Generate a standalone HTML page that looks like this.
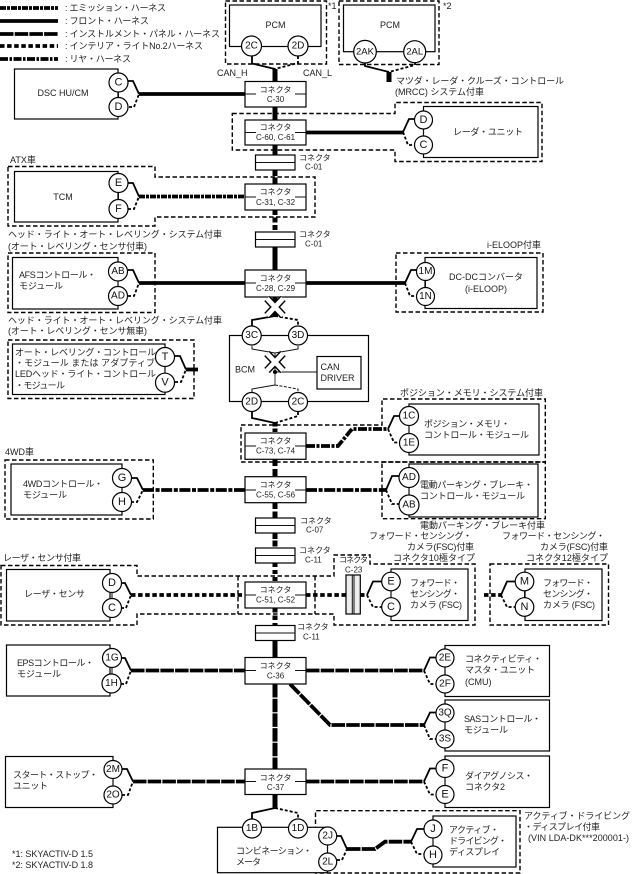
<!DOCTYPE html>
<html><head><meta charset="utf-8">
<style>
html,body{margin:0;padding:0;background:#fff}
svg{display:block}
text{font-family:"Liberation Sans","Noto Sans CJK JP",sans-serif;font-size:9px;fill:#222;dominant-baseline:central}
.s{font-size:8px}
.m{text-anchor:middle}
.c{font-size:11px;text-anchor:middle;fill:#111}
.c2{font-size:10px;text-anchor:middle;fill:#111}
.b{fill:#fff;stroke:#000;stroke-width:1.2}
.d{fill:none;stroke:#000;stroke-width:1.4;stroke-dasharray:4.5 2.5}
.f{fill:none;stroke:#000;stroke-width:3.8}
.i{fill:none;stroke:#000;stroke-width:3.8;stroke-dasharray:13.5 1.2}
.n{fill:none;stroke:#000;stroke-width:3.8;stroke-dasharray:4.5 2.6}
.r{fill:none;stroke:#000;stroke-width:3.8;stroke-dasharray:11 1.6 4 1.6}
.e{fill:none;stroke:#000;stroke-width:3.8;stroke-dasharray:6 1 3 1}
.t{fill:none;stroke:#000;stroke-width:5}
.h{fill:none;stroke:#000;stroke-width:1.8}
.g{fill:none;stroke:#000;stroke-width:1.8;stroke-dasharray:3 2}
.l{fill:none;stroke:#111;stroke-width:1}
.ld{fill:none;stroke:#111;stroke-width:1;stroke-dasharray:3 1.5}
</style></head><body>
<svg xmlns="http://www.w3.org/2000/svg" width="636" height="874" viewBox="0 0 636 874">
<!-- legend -->
<path class="e" d="M0 8H58"/><path class="f" d="M0 21H58"/><path class="i" d="M0 34H58"/><path class="n" d="M0 46H58"/><path class="r" d="M0 59H58" style="stroke-dasharray:8 1.5 2.5 1.5"/>
<text x="65" y="8" textLength="101">: エミッション・ハーネス</text>
<text x="65" y="21" textLength="84">: フロント・ハーネス</text>
<text x="65" y="34" textLength="155">: インストルメント・パネル・ハーネス</text>
<text x="65" y="46" textLength="138">: インテリア・ライトNo.2ハーネス</text>
<text x="65" y="59" textLength="66">: リヤ・ハーネス</text>

<!-- dashed boundaries -->
<rect class="d" x="225.5" y="1" width="101" height="63"/>
<rect class="d" x="339" y="1" width="100" height="63.5"/>
<path class="d" d="M232.3 113.5H395V102.5H542V161.5H395V150H232.3Z"/>
<path class="d" d="M8 166.5H155V177H315V217H155V226H8Z"/>
<rect class="d" x="8" y="253" width="147" height="59.5"/>
<rect class="d" x="396" y="253" width="147" height="59"/>
<rect class="d" x="8" y="340" width="186" height="58.5"/>
<path class="d" d="M241 425H382V399H545.3V462H241Z"/>
<rect class="d" x="382" y="462" width="163.3" height="56.7"/>
<rect class="d" x="5" y="460" width="148.3" height="59"/>
<path class="d" d="M1 565.5H137V576H334V555H370V564H475V625H334V614H137V625H1Z"/>
<path class="d" d="M238 576V614M315 576V614"/>
<rect class="d" x="490" y="564" width="118.5" height="61"/>
<path class="d" d="M315.5 873V810.7H520V873Z"/>

<!-- trunk -->
<path class="t" d="M275 69V82"/>
<path class="t" d="M275 107V120"/>
<path class="t" d="M275 145V155"/>
<path class="t" d="M275 170V184" style="stroke-dasharray:6 1.5"/>
<path class="t" d="M275 210V232" style="stroke-dasharray:5 2.5"/>
<path class="t" d="M275 247V270"/>
<path class="t" d="M275 297V316"/>
<path class="t" d="M275 423V433" style="stroke-dasharray:3.5 2"/>
<path class="t" d="M275 459V477" style="stroke-dasharray:7 3"/>
<path class="t" d="M275 503V518" style="stroke-dasharray:6 2.5"/>
<path class="t" d="M275 533V548" style="stroke-dasharray:6 1.5"/>
<path class="t" d="M275 563V582" style="stroke-dasharray:4 3"/>
<path class="t" d="M275 608V625" style="stroke-dasharray:4.5 3"/>
<path class="t" d="M275 640V658"/>
<path class="t" d="M275 684V769" style="stroke-dasharray:13.5 1.2"/>
<path class="t" d="M275 794V808"/>
<path class="t" d="M389 72V82"/>

<!-- PCM 1/2 wires -->
<path class="h" d="M252 56V63.5L275 69"/><path class="g" d="M298 56V63L275 69"/>
<path class="h" d="M365 62V66L389 72"/><path class="g" d="M415 62V65L389 72"/>

<!-- horizontals -->
<path class="f" d="M139 94H245"/>
<path class="f" d="M306 132.5H403"/>
<path class="e" d="M139 196.5H245"/>
<path class="f" d="M139 283H245"/>
<path class="f" d="M306 283H405"/>
<path class="f" d="M186 369.5H198"/>
<path class="r" d="M306 446H338L352 429H388" style="stroke-dasharray:9 1.5 3 1.5"/>
<path class="r" d="M143 490H245"/>
<path class="r" d="M306 490H386"/>
<path class="n" d="M131 595H245"/>
<path class="n" d="M306 595H346"/>
<path class="n" d="M360 595H367"/>
<path class="n" d="M484 595H501"/>
<path class="i" d="M131 670.5H245"/>
<path class="i" d="M306 670.5H424"/>
<path class="i" d="M290 684L330 725H424"/>
<path class="i" d="M133 781.5H245"/>
<path class="i" d="M306 781.5H424"/>
<path class="i" d="M347 849H375L385 841.7H411"/>

<!-- forks -->
<path class="h" d="M128 81H133L139 94"/><path class="g" d="M129 107H134L139 94"/>
<path class="h" d="M403 132L409 119H415"/><path class="g" d="M403 132L408 145H415"/>
<path class="h" d="M128 183H133L139 196.5"/><path class="g" d="M128 209H134L139 196.5"/>
<path class="h" d="M128 270H133L139 283"/><path class="g" d="M128 296H134L139 283"/>
<path class="h" d="M405 283L411 270H417"/><path class="g" d="M405 283L410 296H417"/>
<path class="h" d="M174 356H180L186 369.5"/><path class="g" d="M175 382H181L186 369.5"/>
<path class="h" d="M388 429L394 416H400"/><path class="g" d="M388 429L394 442.5H400"/>
<path class="h" d="M386 490L392 476H399"/><path class="g" d="M386 490L392 504H399"/>
<path class="h" d="M131 478H137L143 490"/><path class="g" d="M131 502H137L143 490"/>
<path class="h" d="M121 583H125L131 595"/><path class="g" d="M121 608H126L131 595"/>
<path class="h" d="M367 595L373 581.5H382"/><path class="g" d="M367 595L373 607H382"/>
<path class="h" d="M501 595L507 581.5H515"/><path class="g" d="M501 595L507 607H515"/>
<path class="h" d="M121 658H125L131 670.5"/><path class="g" d="M121 684H126L131 670.5"/>
<path class="h" d="M424 670.7L430 657.5H436"/><path class="g" d="M424 670.7L430 684H437"/>
<path class="h" d="M424 725L430 712.5H437"/><path class="g" d="M424 725L430 739H437"/>
<path class="h" d="M122 769H127L133 781.5"/><path class="g" d="M122 795H128L133 781.5"/>
<path class="h" d="M424 781.5L430 768.5H437"/><path class="g" d="M424 781.5L430 794.5H437"/>
<path class="h" d="M337 836H341L347 849"/><path class="g" d="M337 860H342L347 849"/>
<path class="h" d="M411 841.7L417 829H424"/><path class="g" d="M411 841.7L417 854H424"/>
<path class="h" d="M275 316L252 320V329"/><path class="g" d="M275 316L298 320V329"/>
<path class="h" d="M252 412V418L275 423"/><path class="g" d="M298 412V416L275 423"/>
<path class="h" d="M275 808L252 813V819"/><path class="g" d="M275 808L298 813V819"/>

<!-- unit boxes -->
<rect class="b" x="229.5" y="5" width="91.5" height="41.5"/>
<rect class="b" x="343.5" y="5" width="91.5" height="46.7"/>
<rect class="b" x="14.5" y="69" width="103.5" height="50"/>
<rect class="b" x="423.5" y="106.5" width="114.5" height="51"/>
<rect class="b" x="14.5" y="171.5" width="103.5" height="50.5"/>
<rect class="b" x="12.5" y="257.5" width="105.5" height="51.5"/>
<rect class="b" x="425" y="257.5" width="112" height="51"/>
<rect class="b" x="12.5" y="344" width="152.5" height="50.5"/>
<rect class="b" x="229.5" y="335.5" width="139" height="66"/>
<rect class="b" x="317" y="356.5" width="44" height="32.5"/>
<rect class="b" x="409" y="404" width="130" height="51"/>
<rect class="b" x="409" y="464" width="129" height="53"/>
<rect class="b" x="11" y="464" width="111" height="51"/>
<rect class="b" x="6.5" y="569.5" width="103.5" height="51.5"/>
<rect class="b" x="391" y="569" width="77" height="51.5"/>
<rect class="b" x="525" y="569" width="77" height="51.5"/>
<rect class="b" x="6.5" y="645" width="103.5" height="51"/>
<rect class="b" x="445" y="645.5" width="104.5" height="51"/>
<rect class="b" x="445" y="700" width="104.5" height="51"/>
<rect class="b" x="5.5" y="756.5" width="107.5" height="51"/>
<rect class="b" x="445" y="756" width="104.5" height="51.5"/>
<rect class="b" x="217.5" y="827.3" width="110" height="45.4"/>
<rect class="b" x="433" y="816" width="83" height="51"/>

<!-- BCM inside -->
<path class="l" d="M252 346V349L275 353L298 349V346"/>
<path class="l" d="M275 353V372"/>
<path d="M275 372V385" stroke="#777" stroke-width="1.4" fill="none"/>
<path class="l" d="M275 385L252 389V392"/><path class="ld" d="M275 385L298 389V392"/>
<path class="l" d="M275 372H317"/>

<!-- connectors -->
<g>
<rect class="b" x="245" y="81.5" width="61" height="25.5"/><path class="l" d="M245 94H256M295 94H306"/>
<text class="s m" x="275.5" y="90">コネクタ</text><text class="s m" x="275.5" y="99.5">C-30</text>
<rect class="b" x="245" y="120" width="61" height="25"/><path class="l" d="M245 132.5H256M295 132.5H306"/>
<text class="s m" x="275.5" y="127.5">コネクタ</text><text class="s m" x="275.5" y="137.5">C-60, C-61</text>
<rect class="b" x="245" y="184" width="61" height="26"/><path class="l" d="M245 197H256M295 197H306"/>
<text class="s m" x="275.5" y="192">コネクタ</text><text class="s m" x="275.5" y="202.5">C-31, C-32</text>
<rect class="b" x="245" y="270" width="61" height="27"/><path class="l" d="M245 283H256M295 283H306"/>
<text class="s m" x="275.5" y="278.5">コネクタ</text><text class="s m" x="275.5" y="288.5">C-28, C-29</text>
<rect class="b" x="245" y="433" width="61" height="26.3"/><path class="l" d="M245 446H256M295 446H306"/>
<text class="s m" x="275.5" y="441">コネクタ</text><text class="s m" x="275.5" y="451">C-73, C-74</text>
<rect class="b" x="245" y="476.7" width="61" height="26"/><path class="l" d="M245 490H256M295 490H306"/>
<text class="s m" x="275.5" y="485">コネクタ</text><text class="s m" x="275.5" y="495">C-55, C-56</text>
<rect class="b" x="245" y="582" width="61" height="26"/><path class="l" d="M245 595H256M295 595H306"/>
<text class="s m" x="275.5" y="590">コネクタ</text><text class="s m" x="275.5" y="600">C-51, C-52</text>
<rect class="b" x="245" y="657.5" width="61" height="26.5"/><path class="l" d="M245 670.5H256M295 670.5H306"/>
<text class="s m" x="275.5" y="666">コネクタ</text><text class="s m" x="275.5" y="676">C-36</text>
<rect class="b" x="245" y="769" width="61" height="25.5"/><path class="l" d="M245 781.5H256M295 781.5H306"/>
<text class="s m" x="275.5" y="778">コネクタ</text><text class="s m" x="275.5" y="787.5">C-37</text>
</g>
<g>
<rect class="b" x="255.5" y="155" width="39.5" height="15"/><path class="l" d="M255.5 162.5H295"/>
<rect class="b" x="255.5" y="232" width="39.5" height="15"/><path class="l" d="M255.5 239.5H295"/>
<rect class="b" x="255.5" y="518" width="39.5" height="15"/><path class="l" d="M255.5 525.5H295"/>
<rect class="b" x="255.5" y="548" width="39.5" height="15"/><path class="l" d="M255.5 555.5H295"/>
<rect class="b" x="255.5" y="625.5" width="39.5" height="15"/><path class="l" d="M255.5 633H295"/>
<rect x="346" y="575" width="14.3" height="39" fill="#eee" stroke="#000" stroke-width="1.2"/>
<path d="M352.3 575V614M354 575V614" stroke="#111" stroke-width="1"/>
</g>
<text class="s" x="299" y="158">コネクタ</text><text class="s" x="305" y="167">C-01</text>
<text class="s" x="299" y="234.5">コネクタ</text><text class="s" x="305" y="244">C-01</text>
<text class="s" x="300" y="521">コネクタ</text><text class="s" x="306" y="530">C-07</text>
<text class="s" x="299" y="550.5">コネクタ</text><text class="s" x="305" y="560">C-11</text>
<text class="s" x="297" y="627">コネクタ</text><text class="s" x="303" y="637">C-11</text>
<text class="s" x="339" y="560" textLength="29">コネクタ</text><text class="s" x="345" y="570">C-23</text>

<!-- X marks -->
<g>
<path d="M267 298.5L283 315.5M283 298.5L267 315.5" stroke="#000" stroke-width="7.5" fill="none"/>
<path d="M267 298.5L283 315.5M283 298.5L267 315.5" stroke="#fff" stroke-width="4.8" fill="none"/>
<path d="M267 353.5L283 370.5M283 353.5L267 370.5" stroke="#000" stroke-width="7.5" fill="none"/>
<path d="M267 353.5L283 370.5M283 353.5L267 370.5" stroke="#fff" stroke-width="4.8" fill="none"/>
</g>
<circle cx="275" cy="372" r="2" fill="#000"/>

<!-- circle connecting stubs -->
<path class="l" d="M423.5 120V145M118.5 82V107M118.5 183V209M118 271V296M425.5 271V296M165 357V383M409 416V443M409 477V505M122 478V502M112 583V608M391 581V607M524.5 581V607M112 658V684M445 658V684M445 713V739M113 769V795M445 768V795M327.5 836V862M433 829V855"/>

<!-- circles -->
<g fill="#fff" stroke="#000" stroke-width="1.2">
<circle cx="251.5" cy="46" r="10"/><circle cx="298" cy="46" r="10"/>
<circle cx="365" cy="51.7" r="11.3"/><circle cx="414.7" cy="51.7" r="11"/>
<circle cx="118.5" cy="82.5" r="9.5"/><circle cx="118.5" cy="107" r="9.5"/>
<circle cx="423.5" cy="120" r="9"/><circle cx="423.5" cy="145" r="9"/>
<circle cx="118.5" cy="183" r="9.5"/><circle cx="118.5" cy="209" r="9.5"/>
<circle cx="118" cy="271.5" r="9.5"/><circle cx="118" cy="296" r="9.5"/>
<circle cx="425.5" cy="271.5" r="9"/><circle cx="425.5" cy="296.5" r="9"/>
<circle cx="165" cy="357" r="9.5"/><circle cx="165" cy="382.7" r="9.5"/>
<circle cx="251.7" cy="335.5" r="9.5"/><circle cx="298" cy="335.5" r="9.5"/>
<circle cx="251.7" cy="402" r="9.5"/><circle cx="298" cy="402" r="9.5"/>
<circle cx="409" cy="416" r="9.5"/><circle cx="409" cy="443" r="9.5"/>
<circle cx="409" cy="477.5" r="10"/><circle cx="409" cy="505" r="10"/>
<circle cx="122" cy="478" r="9.5"/><circle cx="122" cy="502" r="9.5"/>
<circle cx="112" cy="583" r="9.5"/><circle cx="112" cy="608" r="9.5"/>
<circle cx="391" cy="581.5" r="9.3"/><circle cx="391" cy="607" r="9.3"/>
<circle cx="524.5" cy="581.5" r="9.3"/><circle cx="524.5" cy="607" r="9.3"/>
<circle cx="112" cy="658" r="9.5"/><circle cx="111.5" cy="683.5" r="9.5"/>
<circle cx="445" cy="658" r="9"/><circle cx="445" cy="684" r="9"/>
<circle cx="445" cy="713" r="9"/><circle cx="445" cy="739" r="9"/>
<circle cx="113" cy="769.5" r="9"/><circle cx="113" cy="795" r="9"/>
<circle cx="445" cy="768.5" r="9"/><circle cx="445" cy="794.5" r="9"/>
<circle cx="252" cy="828.5" r="9.5"/><circle cx="298" cy="828.5" r="9.5"/>
<circle cx="327.7" cy="836" r="9"/><circle cx="327.7" cy="862" r="9"/>
<circle cx="433" cy="829" r="9"/><circle cx="433" cy="855" r="9"/>
</g>
<text class="c2" x="251.5" y="46">2C</text><text class="c2" x="298" y="46">2D</text>
<text class="c2" x="365" y="52" style="font-size:9.5px">2AK</text><text class="c2" x="414.7" y="52" style="font-size:9.5px">2AL</text>
<text class="c" x="118.5" y="82.5">C</text><text class="c" x="118.5" y="107">D</text>
<text class="c" x="423.5" y="120">D</text><text class="c" x="423.5" y="145">C</text>
<text class="c" x="118.5" y="183">E</text><text class="c" x="118.5" y="209">F</text>
<text class="c2" x="118" y="271.5">AB</text><text class="c2" x="118" y="296">AD</text>
<text class="c2" x="425.5" y="271.5">1M</text><text class="c2" x="425.5" y="296.5">1N</text>
<text class="c" x="165" y="357">T</text><text class="c" x="165" y="382.7">V</text>
<text class="c2" x="251.7" y="335.5">3C</text><text class="c2" x="298" y="335.5">3D</text>
<text class="c2" x="251.7" y="402">2D</text><text class="c2" x="298" y="402">2C</text>
<text class="c2" x="409" y="416">1C</text><text class="c2" x="409" y="443">1E</text>
<text class="c2" x="409" y="477.5">AD</text><text class="c2" x="409" y="505">AB</text>
<text class="c" x="122" y="478">G</text><text class="c" x="122" y="502">H</text>
<text class="c" x="112" y="583">D</text><text class="c" x="112" y="608">C</text>
<text class="c" x="391" y="581.5">E</text><text class="c" x="391" y="607">C</text>
<text class="c" x="524.5" y="581.5">M</text><text class="c" x="524.5" y="607">N</text>
<text class="c2" x="112" y="658">1G</text><text class="c2" x="111.5" y="683.5">1H</text>
<text class="c2" x="445" y="658">2E</text><text class="c2" x="445" y="684">2F</text>
<text class="c2" x="445" y="713">3Q</text><text class="c2" x="445" y="739">3S</text>
<text class="c2" x="113" y="769.5">2M</text><text class="c2" x="113" y="795">2O</text>
<text class="c" x="445" y="768.5">F</text><text class="c" x="445" y="794.5">E</text>
<text class="c2" x="252" y="828.5">1B</text><text class="c2" x="298" y="828.5">1D</text>
<text class="c2" x="327.7" y="836">2J</text><text class="c2" x="327.7" y="862">2L</text>
<text class="c" x="433" y="829">J</text><text class="c" x="433" y="855">H</text>

<!-- unit labels -->
<text class="m" x="275.5" y="25">PCM</text>
<text class="m" x="390" y="25">PCM</text>
<text x="328" y="6">*1</text><text x="443" y="6">*2</text>
<text x="217" y="73">CAN_H</text><text x="303" y="73">CAN_L</text>
<text x="396" y="81" textLength="168">マツダ・レーダ・クルーズ・コントロール</text>
<text x="395" y="92" textLength="89">(MRCC) システム付車</text>
<text class="m" x="63" y="93">DSC HU/CM</text>
<text x="453" y="132" textLength="70">レーダ・ユニット</text>
<text x="10" y="160">ATX車</text>
<text class="m" x="63" y="197">TCM</text>
<text x="8" y="234.5" textLength="214">ヘッド・ライト・オート・レベリング・システム付車</text>
<text x="8" y="246.5" textLength="139">(オート・レベリング・センサ付車)</text>
<text x="19" y="275" textLength="77">AFSコントロール・</text>
<text x="19" y="286" textLength="44">モジュール</text>
<text x="487" y="245" textLength="54">i-ELOOP付車</text>
<text class="m" x="486" y="277">DC-DCコンバータ</text>
<text class="m" x="486" y="289">(i-ELOOP)</text>
<text x="8" y="320.5" textLength="214">ヘッド・ライト・オート・レベリング・システム付車</text>
<text x="8" y="331" textLength="139">(オート・レベリング・センサ無車)</text>
<text x="15" y="352.5" textLength="141">オート・レベリング・コントロール</text>
<text x="15" y="363" textLength="140">・モジュール または アダプティブ</text>
<text x="15" y="374" textLength="141">LEDヘッド・ライト・コントロール</text>
<text x="15" y="385.5" textLength="50">・モジュール</text>
<text x="235" y="369.5">BCM</text>
<text x="320.5" y="367">CAN</text><text x="320.5" y="378">DRIVER</text>
<text x="400" y="393" textLength="143">ポジション・メモリ・システム付車</text>
<text x="424" y="424" textLength="86">ポジション・メモリ・</text>
<text x="424" y="435" textLength="105">コントロール・モジュール</text>
<text x="420" y="485" textLength="113">電動パーキング・ブレーキ・</text>
<text x="420" y="496" textLength="105">コントロール・モジュール</text>
<text x="420" y="525.5" textLength="125">電動パーキング・ブレーキ付車</text>
<text x="5" y="452">4WD車</text>
<text x="23" y="484" textLength="80">4WDコントロール・</text>
<text x="23" y="495" textLength="44">モジュール</text>
<text x="369" y="536" textLength="103">フォワード・センシング・</text>
<text x="407" y="547" textLength="67">カメラ(FSC)付車</text>
<text x="393" y="558" textLength="82">コネクタ10極タイプ</text>
<text x="502" y="536" textLength="103">フォワード・センシング・</text>
<text x="540" y="547" textLength="68">カメラ(FSC)付車</text>
<text x="526" y="558" textLength="82">コネクタ12極タイプ</text>
<text x="3" y="558" textLength="78">レーザ・センサ付車</text>
<text x="24" y="594" textLength="61">レーザ・センサ</text>
<text x="410" y="583" textLength="50">フォワード・</text>
<text x="410" y="594" textLength="50">センシング・</text>
<text x="410" y="605" textLength="52">カメラ (FSC)</text>
<text x="543" y="583" textLength="50">フォワード・</text>
<text x="543" y="594" textLength="50">センシング・</text>
<text x="543" y="605" textLength="52">カメラ (FSC)</text>
<text x="17" y="663" textLength="77">EPSコントロール・</text>
<text x="17" y="674" textLength="44">モジュール</text>
<text x="465" y="659" textLength="77">コネクティビティ・</text>
<text x="465" y="670" textLength="70">マスタ・ユニット</text>
<text x="465" y="682">(CMU)</text>
<text x="464" y="719" textLength="77">SASコントロール・</text>
<text x="464" y="730" textLength="44">モジュール</text>
<text x="13" y="775" textLength="85">スタート・ストップ・</text>
<text x="13" y="786" textLength="35">ユニット</text>
<text x="465" y="776" textLength="68">ダイアグノシス・</text>
<text x="465" y="787" textLength="40">コネクタ2</text>
<text x="236" y="851" textLength="76">コンビネーション・</text>
<text x="236" y="862" textLength="25">メータ</text>
<text x="449" y="830" textLength="50">アクティブ・</text>
<text x="449" y="841" textLength="58">ドライビング・</text>
<text x="449" y="852" textLength="51">ディスプレイ</text>
<text x="524" y="816" textLength="106">アクティブ・ドライビング</text>
<text x="524" y="827" textLength="76">・ディスプレイ付車</text>
<text x="528" y="838" textLength="101">(VIN LDA-DK***200001-)</text>
<text x="12" y="854" textLength="81">*1: SKYACTIV-D 1.5</text>
<text x="12" y="865" textLength="81">*2: SKYACTIV-D 1.8</text>
</svg>
</body></html>
